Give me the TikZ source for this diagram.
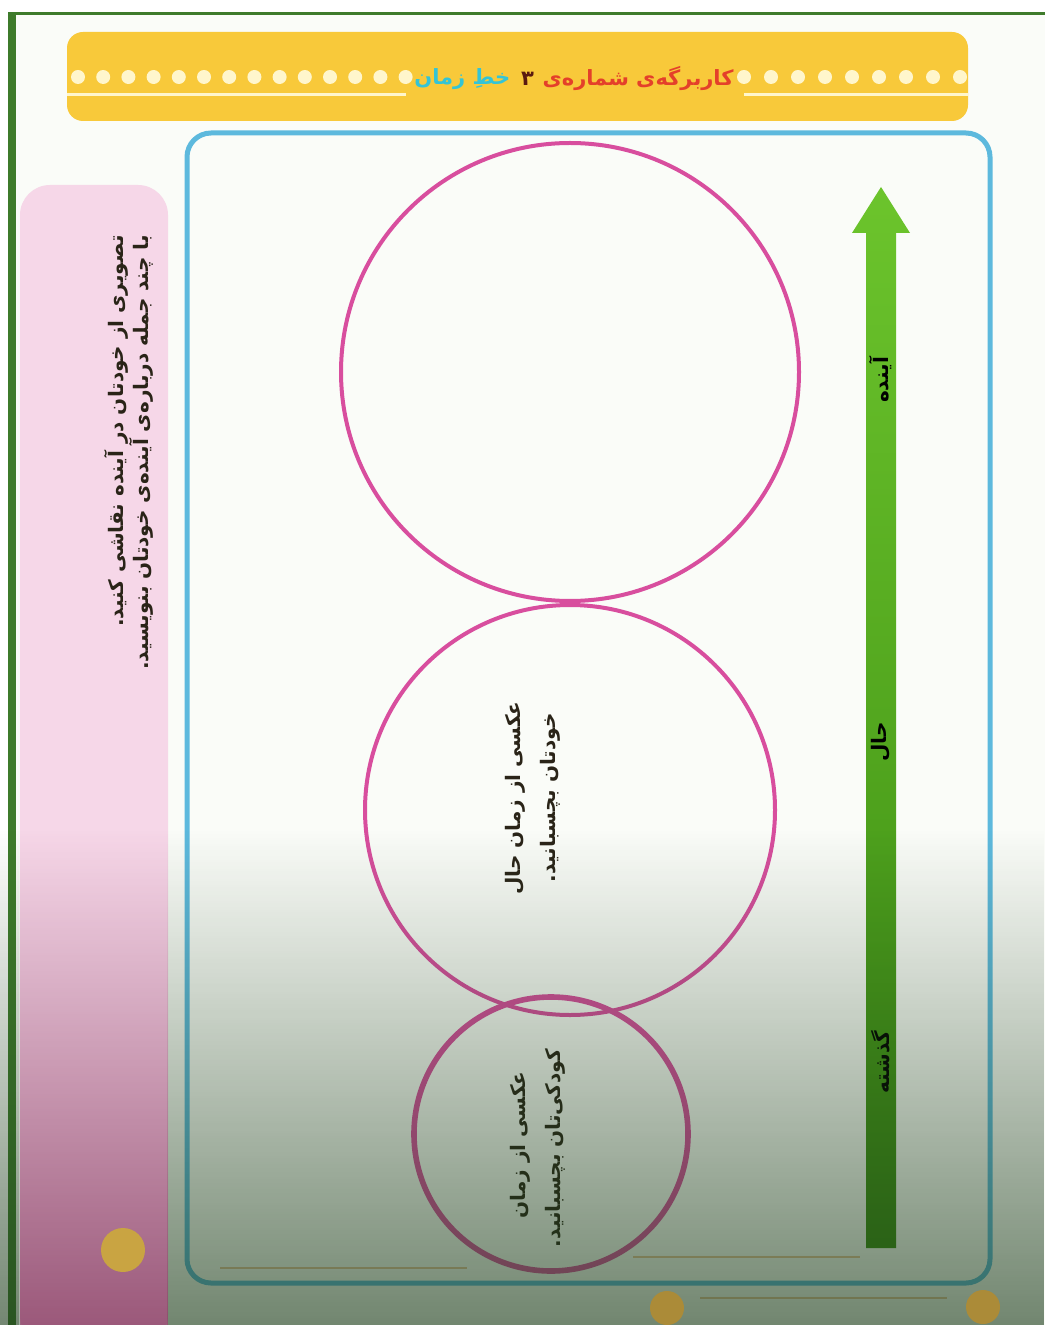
\documentclass[tikz,border=0pt]{standalone}
\usepackage{fontspec}
\TeXXeTstate=1
\newfontfamily\fa[Script=Arabic]{DejaVu Sans}
\usetikzlibrary{fadings}

\definecolor{paper}{HTML}{FAFCF8}
\definecolor{framegreen}{HTML}{3E7B2B}
\definecolor{baryellow}{HTML}{F8C93A}
\definecolor{dotcream}{HTML}{FFF6CC}
\definecolor{panelpink}{HTML}{F6D7E8}
\definecolor{frameblue}{HTML}{5DB9DD}
\definecolor{ringpink}{HTML}{D84E9E}
\definecolor{arrowtop}{HTML}{6CC42C}
\definecolor{arrowbot}{HTML}{3A8A12}
\definecolor{titlered}{HTML}{E4402A}
\definecolor{titlecyan}{HTML}{34C4D6}
\definecolor{titledark}{HTML}{5A1A10}
\definecolor{inkdark}{HTML}{2A2418}
\definecolor{hazegreen}{HTML}{1E3E1C}
\definecolor{hazemauve}{HTML}{782850}
\definecolor{gold}{HTML}{C9A442}
\definecolor{tan}{HTML}{E6C49A}

\tikzfading[name=haze, top color=transparent!100, middle color=transparent!30, bottom color=transparent!0]

\tikzset{
  ring/.style={circle, draw=ringpink, line width=2pt, minimum size=#1, inner sep=0pt},
  vtext/.style={rotate=90, inner sep=0pt, text=inkdark, font=\fa\bfseries\fontsize{10}{12}\selectfont},
  marker/.style={rotate=90, inner sep=0pt, text=black, font=\fa\bfseries\fontsize{10}{12}\selectfont},
  heading/.style={inner sep=0pt, font=\fa\bfseries\fontsize{10.5}{13}\selectfont},
}

\begin{document}
\begin{tikzpicture}[x=0.5pt,y=-0.5pt]
\useasboundingbox (0,0) rectangle (1045,1325);
\fill[white] (0,0) rectangle (1045,1325);
\fill[paper] (16,15) rectangle (1045,1325);

% page frame
\fill[framegreen] (8,12) rectangle (16,1325);
\fill[framegreen] (8,12) rectangle (1045,15.5);

% title bar
\fill[baryellow, rounded corners=8] (67,32) rectangle (968,121);
\foreach \i in {0,...,13} \fill[dotcream] (78+25.2*\i,77) circle (7);
\foreach \i in {0,...,8} \fill[dotcream] (744+27*\i,77) circle (7);
\draw[dotcream, line width=1.5pt] (67,95) -- (406,95);
\draw[dotcream, line width=1.5pt] (744,95) -- (968,95);
\node[heading, text=titlered, anchor=east] (titleA) at (734,79) {\beginR کاربرگه‌ی شماره‌ی\endR};
\node[heading, text=titledark, anchor=east] (titleB) at ([xshift=-4pt]titleA.west) {۳};
\node[heading, text=titlecyan, anchor=east] (titleC) at ([xshift=-5pt]titleB.west) {\beginR خطِ زمان\endR};

% side panel
\fill[panelpink, rounded corners=15] (20,185) -- (168,185) -- (168,1345) -- (20,1345) -- cycle;
\node[vtext, anchor=east] (hintA) at (116,235) {\beginR تصویری از خودتان در آینده نقاشی کنید.\endR};
\node[vtext, anchor=east] (hintB) at (141,235) {\beginR با چند جمله درباره‌ی آینده‌ی خودتان بنویسید.\endR};

% work frame
\draw[frameblue, line width=2.5pt, rounded corners=12] (187,133) rectangle (990,1283);
\draw[tan, line width=1pt] (220,1268) -- (467,1268);
\draw[tan, line width=1pt] (633,1257) -- (860,1257);
\draw[tan, line width=1pt] (700,1298) -- (947,1298);

% picture circles
\node[ring=229pt] (future) at (570,372) {};
\node[ring=205pt] (present) at (570,810) {};
\node[ring=137pt, line width=2.8pt] (past) at (551,1134) {};

\node[vtext] (presentA) at (515,798) {\beginR عکسی از زمان حال\endR};
\node[vtext] (presentB) at (550,798) {\beginR خودتان بچسبانید.\endR};
\node[vtext] (pastA) at (520,1145) {\beginR عکسی از زمان\endR};
\node[vtext] (pastB) at (555,1148) {\beginR کودکی‌تان بچسبانید.\endR};

% time arrow
\shade[top color=arrowtop, bottom color=arrowbot]
  (866,1248) -- (866,233) -- (852,233) -- (881,187) -- (910,233) -- (896,233) -- (896,1248) -- cycle;
\node[marker] (future label) at (881,380) {\beginR آینده\endR};
\node[marker] (present label) at (881,742) {\beginR حال\endR};
\node[marker] (past label) at (881,1062) {\beginR گذشته\endR};

% darkening toward the lower edge
\fill[hazegreen, opacity=0.62, path fading=haze, fit fading=true]
  (0,830) rectangle (20,1325) (168,830) rectangle (1045,1325);
\fill[hazemauve, opacity=0.72, path fading=haze, fit fading=true]
  (20,830) rectangle (168,1325);

% punch marks
\fill[gold] (123,1250) circle (22);
\fill[gold!85!black] (667,1308) circle (17);
\fill[gold!85!black] (983,1307) circle (17);
\end{tikzpicture}
\end{document}
